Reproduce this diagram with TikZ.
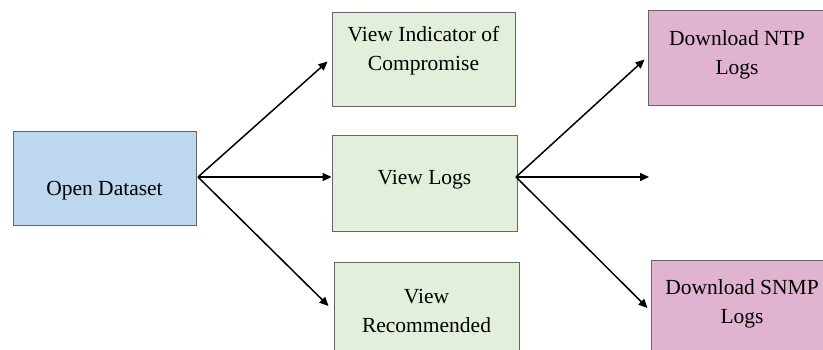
\documentclass[tikz,border=0pt]{standalone}
\usepackage{fontspec}
\setmainfont{Liberation Serif}
\usetikzlibrary{arrows.meta}

\definecolor{dsblue}{RGB}{189,215,238}
\definecolor{viewgreen}{RGB}{226,239,218}
\definecolor{dlpink}{RGB}{224,180,208}

\tikzset{
  stagebox/.style={draw=black!60, line width=0.9pt, minimum width=183, minimum height=94, inner sep=0},
  boxtext/.style={align=center, font=\fontsize{21.5}{29}\selectfont, inner sep=0},
  flow/.style={line width=1.5pt, -{Triangle[length=9pt,width=8pt]}}
}

\begin{document}
\begin{tikzpicture}[x=1pt,y=-1pt]
\useasboundingbox (0,0) rectangle (823,349);
\clip (0,0) rectangle (823,349);
\node[stagebox, fill=dsblue] (open) at (104.5,178.5) {};
\node[stagebox, fill=viewgreen] (ioc) at (423.5,59.5) {};
\node[stagebox, fill=viewgreen, minimum width=185, minimum height=96] (logs) at (424.5,183) {};
\node[stagebox, fill=viewgreen, minimum width=185] (rec) at (426.5,309) {};
\node[stagebox, fill=dlpink, minimum width=180, minimum height=95] (ntp) at (738,57.5) {};
\node[stagebox, fill=dlpink, minimum width=180] (snmp) at (741,307) {};
\node[boxtext] (opentxt) at (104.5,191) {Open Dataset};
\node[boxtext] (ioctxt) at (423.5,51) {View Indicator of\\Compromise};
\node[boxtext] (logstxt) at (424.5,180) {View Logs};
\node[boxtext] (rectxt) at (426.5,311) {View\\Recommended};
\node[boxtext] (ntptxt) at (737,55) {Download NTP\\Logs};
\node[boxtext] (snmptxt) at (742,304) {Download SNMP\\Logs};
\coordinate (openout) at (198,177);
\coordinate (logsout) at (516,177);
\coordinate (blank) at (649,177);
\draw[flow] (openout) -- ([xshift=-4,yshift=-2]ioc.west);
\draw[flow] (openout) -- (logs.west |- openout);
\draw[flow] (openout) -- ([xshift=-5,yshift=3]rec.west);
\draw[flow] (logsout) -- ([xshift=-3,yshift=-2]ntp.west);
\draw[flow] (logsout) -- (blank);
\draw[flow] (logsout) -- ([xshift=-3,yshift=-1]snmp.west);
\end{tikzpicture}
\end{document}
